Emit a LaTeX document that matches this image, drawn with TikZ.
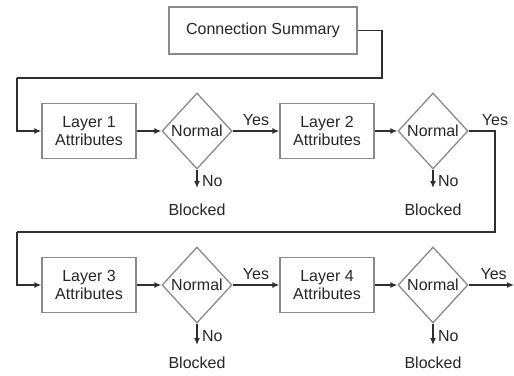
\documentclass[tikz,border=0pt]{standalone}
\usepackage{fontspec}
\setmainfont{Liberation Sans}
\usetikzlibrary{shapes.geometric,arrows.meta}
\definecolor{boxgray}{HTML}{8A8A8A}
\definecolor{linedark}{HTML}{2E2E2E}
\definecolor{txt}{HTML}{262626}
\begin{document}
\begin{tikzpicture}[x=1pt,y=-1pt,
  every node/.style={text=txt,font=\fontsize{16}{17.5}\selectfont},
  box/.style={draw=boxgray,line width=1.3pt,minimum width=94pt,minimum height=55pt,align=center,inner sep=0pt},
  dia/.style={diamond,draw=boxgray,line width=1.3pt,minimum width=70pt,minimum height=76pt,inner sep=0pt},
  conn/.style={draw=linedark,line width=1.6pt,-{Latex[length=7pt,width=6pt]}},
  plain/.style={draw=linedark,line width=1.6pt}]
\useasboundingbox (0,0) rectangle (514,375);
\fill[white] (0,0) rectangle (514,375);
% nodes
\node[box,minimum width=188pt,minimum height=47pt] (cs) at (263,30.5) {Connection Summary};
\node[box] (l1) at (89,131) {Layer 1\\Attributes};
\node[dia] (d1) at (197,131) {Normal};
\node[box] (l2) at (327,131) {Layer 2\\Attributes};
\node[dia] (d2) at (433,131) {Normal};
\node[box] (l3) at (89,285) {Layer 3\\Attributes};
\node[dia] (d3) at (197,285) {Normal};
\node[box] (l4) at (327,285) {Layer 4\\Attributes};
\node[dia] (d4) at (433,285) {Normal};
% blocked labels
\node (bl1) at (197,210) {Blocked};
\node (bl2) at (433,210) {Blocked};
\node (bl3) at (197,363) {Blocked};
\node (bl4) at (433,363) {Blocked};
% route coordinates
\coordinate (r1) at (382,78);
\coordinate (r2) at (17,78);
\coordinate (s1) at (495,232);
\coordinate (s2) at (17,232);
\coordinate (e1) at (197,188);
\coordinate (e2) at (433,188);
\coordinate (e3) at (197,345);
\coordinate (e4) at (433,345);
\coordinate (out) at (514,285);
% connectors
\draw[plain] (cs.east) -| (r1) -- (r2);
\draw[conn] (r2) |- (l1.west);
\draw[conn] (l1.east) -- (d1.west);
\draw[conn] (d1.east) -- node[above=1pt] {Yes} (l2.west);
\draw[conn] (l2.east) -- (d2.west);
\draw[plain] (d2.east) -| node[pos=0.5,above=1pt] {Yes} (s1) -- (s2);
\draw[conn] (s2) |- (l3.west);
\draw[conn] (l3.east) -- (d3.west);
\draw[conn] (d3.east) -- node[above=1pt] {Yes} (l4.west);
\draw[conn] (l4.east) -- (d4.west);
\draw[conn] (d4.east) -- node[above=1pt,pos=0.55] {Yes} (out);
\draw[conn] (d1.south) -- node[right=1pt,pos=0.6] {No} (e1);
\draw[conn] (d2.south) -- node[right=1pt,pos=0.6] {No} (e2);
\draw[conn] (d3.south) -- node[right=1pt,pos=0.6] {No} (e3);
\draw[conn] (d4.south) -- node[right=1pt,pos=0.6] {No} (e4);
\end{tikzpicture}
\end{document}
